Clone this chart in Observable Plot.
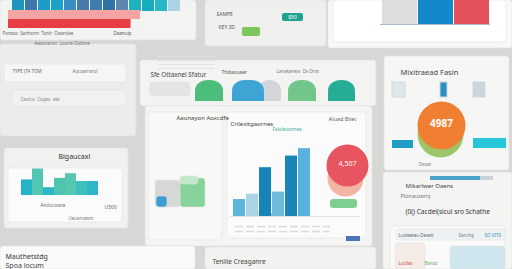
<!DOCTYPE html>
<html><head><meta charset="utf-8">
<script src="https://cdn.jsdelivr.net/npm/d3@7"></script>
<script src="https://cdn.jsdelivr.net/npm/@observablehq/plot@0.6"></script>
<style>
body{margin:0;background:#d7d8d6;}
#c{position:relative;width:512px;height:269px;overflow:hidden;font-family:"Noto Sans",sans-serif;background:#d7d8d6}
#c svg{position:absolute}
</style></head><body><div id="c"></div>
<script>
// ---- data ----
const mainCats = ["Jan","Feb","Mar","Apr","May","Jun"];
const mainVals = [16, 21, 46, 23, 57, 64];
const topCats = ["Total","Revenue","Costs"];
const topVals = [60, 62, 62];
const stripCats = ["c1","c2","c3","c4","c5","c6","c7","c8","c9","c10","c11","c12","c13"];
const bandCats = ["Target","Actual"];
const bandVals = [140, 130];
const sideCats = ["s1","s2","s3","s4","s5","s6","s7"];
const sideVals = [10, 17, 5, 11, 14, 9, 9];
const gaugeLabels = ["Sfe Ottaxnel Sfatur","Mixitraead Fasin","Bigaucaxl","Aaunayon Aoxcdfe"];
const kpiTexts = ["4987", "4,507", "$50"];

const C = document.getElementById("c");
function place(svg, left, top){ svg.style.left = left+"px"; svg.style.top = top+"px"; C.append(svg); }

// ---- layout (pixel frame) ----
const panels = [
  [0,0,196,40,"#f3f3f2"],
  [205,0,326,46,"#efefee"],
  [328,0,512,48,"#f8f8f7"],
  [333,0,506,42,"#ffffff"],
  [0,44,136,136,"#ececeb"],
  [4,64,126,82,"#f6f6f5"],
  [12,90,126,106,"#f1f1f0"],
  [140,60,376,106,"#f3f3f2"],
  [145,106,372,246,"#f4f4f3"],
  [148,112,222,240,"#f8f8f7"],
  [227,112,366,238,"#fbfbfb"],
  [384,56,509,170,"#f6f6f5"],
  [383,172,512,269,"#f4f4f3"],
  [390,226,505,269,"#fafafa"],
  [4,148,128,228,"#f1f1f0"],
  [8,168,122,222,"#fbfbfb"],
  [0,246,195,269,"#fafafa"],
  [205,247,376,269,"#f2f2f1"],
  [150,82,190,96,"#e4e4e3"],
  [155,180,180,207,"#d6d7d7"],
  [180,178,205,207,"#86d49b"],
  [180,176,198,184,"#bfe9c9"],
  [156,196,167,207,"#3c9fd2"],
  [396,229,505,240,"#eef2f4"],
  [395,243,425,269,"#f6ece7"],
  [450,246,505,269,"#cfe6ee"]
].map(([x1,y1,x2,y2,f])=>({x1,y1,x2,y2,f}));

const domes = [
  [195,223,"#4dbd7c"],[258,281,"#d3d6d8"],[232,264,"#3ea4d4"],[288,316,"#72c68b"],[328,355,"#27ad96"]
].map(([x1,x2,c])=>({x1,x2,c}));

const texts = [
  [150,74,gaugeLabels[0],"#444",6.3],
  [221,72,"Thdaouaer","#555",5],
  [276,71,"Lanakarexs  Dx Drzs","#777",4.5],
  [400,72,gaugeLabels[1],"#444",7.5],
  [58,156,gaugeLabels[2],"#333",7],
  [176,118,gaugeLabels[3],"#444",6],
  [230,124,"Crilexitgaornes","#444",6],
  [272,129,"Fsloleoomes","#4a9",5],
  [328,119,"Aluad Bliec","#666",5.5],
  [405,186,"Mikarlwer Oaens","#444",6],
  [400,196,"Plonautarry","#777",5.5],
  [405,211,"(0() Cacdei(sicul sro Schathe","#333",6.5],
  [5,256,"Mauthetstdg","#333",7],
  [5,265,"Spoa locum","#444",7],
  [212,261,"Tenilie Creaganre","#444",6.5],
  [2,33,"Pontoo  Sanhonn  Tonlr  Oaarvlae","#666",4.5],
  [113,33,"Daanulp","#555",4.5],
  [12,71,"TYPE (TA TOM","#666",4.5],
  [72,71,"Aocoarrarol","#777",4.5],
  [34,43,"Aesonaron  Loone Oobme","#777",4.5],
  [20,99,"Caolco  Cogeo  ete","#888",4.5],
  [216,14,"SAMPE","#555",5],
  [218,27,"KEY 3D","#555",5],
  [418,164,"Osoar","#777",4.5],
  [256,214,"Fisprcles","#777",4.5],
  [40,205,"Anclucoone","#666",4.5],
  [68,218,"Ueuaruesm","#777",4.5],
  [104,207,"U500","#666",5],
  [398,235,"Lusieeteu Deseti","#666",4.5],
  [458,235,"Saruhg","#777",4.5],
  [484,235,"SO VITS","#3a8fc4",4.5],
  [398,263,"Lucilss","#c44",4.5],
  [424,263,"Bsnsd","#6a6",4.5]
].map(([x,y,t,fill,s])=>({x,y,t,fill,s}));

const R = (data, opts) => Plot.rect(data, {x1:"x1",x2:"x2",y1:"y1",y2:"y2",...opts});
const base = Plot.plot({
  width:512, height:269, margin:0,
  x:{domain:[0,512], range:[0,512], axis:null}, y:{domain:[0,269], range:[0,269], axis:null},
  style:{background:"transparent"},
  marks:[
    R(panels,{fill:d=>d.f,stroke:"#e3e3e1",strokeWidth:0.6,rx:3}),
    // gauge domes in status panel
    R(domes,{y1:()=>80,y2:()=>101,fill:d=>d.c,rx:13}),
    R(domes,{y1:()=>92,y2:()=>101,fill:d=>d.c}),
    // red pie in main panel
    Plot.dot([{x:345,y:178}],{x:"x",y:"y",r:18,fill:"#f3b4a4"}),
    Plot.dot([{x:347,y:165}],{x:"x",y:"y",r:21,fill:"#e8545f"}),
    R([{x1:330,x2:357,y1:199,y2:208}],{fill:"#7ccf8f",rx:3}),
    R([{x1:346,x2:360,y1:236,y2:241}],{fill:"#4d74b8"}),
    // orange blob
    Plot.dot([{x:440,y:134}],{x:"x",y:"y",r:23,fill:"#9dc66c"}),
    Plot.dot([{x:441,y:125}],{x:"x",y:"y",r:24,fill:"#f17f31"}),
    R([{x1:473,x2:506,y1:138,y2:148},{x1:392,x2:413,y1:140,y2:148}],{fill:(d,i)=>i?"#1f9dc9":"#27c6d9"}),
    R([{x1:392,x2:405,y1:82,y2:97},{x1:440,x2:447,y1:82,y2:97},{x1:473,x2:485,y1:82,y2:97}],{fill:(d,i)=>["#dfe6ea","#2a8fc6","#c9d6de"][i],stroke:"#cfd8dc"}),
    R([{x1:430,x2:480,y1:176,y2:180}],{fill:"#4aa2c9"}),
    R([{x1:480,x2:493,y1:176,y2:180}],{fill:"#c9d3d8"}),
    // buttons top middle
    R([{x1:282,x2:303,y1:13,y2:21},{x1:242,x2:260,y1:27,y2:36}],{fill:(d,i)=>i?"#7dc65a":"#1fa38c",rx:2}),
    Plot.text([{x:292,y:17,t:kpiTexts[2]}],{x:"x",y:"y",text:"t",fill:"white",fontSize:5}),
    Plot.text([{x:441,y:123,t:kpiTexts[0]}],{x:"x",y:"y",text:"t",fill:"white",fontSize:10,fontWeight:"bold"}),
    Plot.text([{x:347,y:163,t:kpiTexts[1]}],{x:"x",y:"y",text:"t",fill:"white",fontSize:7}),
    Plot.text(texts,{x:"x",y:"y",text:"t",fill:d=>d.fill,fontSize:d=>d.s,textAnchor:"start"}),
    Plot.ruleY([216],{x1:230,x2:360,stroke:"#cfd6da",strokeWidth:0.6}),
    Plot.ruleY([226,231],{x1:235,x2:330,stroke:"#d8dcdf",strokeWidth:1.5,strokeDasharray:"8,3"}),
    Plot.ruleY([56,60,64,68],{x1:158,x2:215,stroke:"#e2e2e1",strokeWidth:1})
  ]
});
C.append(base); base.style.left="0px"; base.style.top="0px";

// ---- top-left strip of cells and red band ----
const stripColors = ["#1e96c0","#3b78ae","#1e9cc8","#1aa2c8","#3a8ec4","#4a78a8","#3e7db0","#2f74a6","#5f86ae","#1db3be","#17acbd","#26b7c8","#abd3e4"];
place(Plot.plot({
  width:172, height:11, margin:0, x:{axis:null, domain:stripCats, padding:0.04}, y:{axis:null},
  style:{background:"transparent"},
  marks:[Plot.cell(stripCats,{x:d=>d, fill:(d,i)=>stripColors[i]})]
}), 10, 0);
place(Plot.plot({
  width:132, height:18, margin:0, x:{axis:null, domain:[0,140]}, y:{axis:null, domain:bandCats, padding:0},
  style:{background:"transparent"},
  marks:[Plot.barX(bandCats,{y:d=>d, x:(d,i)=>bandVals[i], fill:(d,i)=>i?"#e63d47":"#f5a3a3"})]
}), 8, 10);

// ---- top-right bars ----
place(Plot.plot({
  width:110, height:28, margin:0, marginBottom:2, x:{axis:null, domain:topCats, padding:0.04}, y:{axis:null, domain:[0,45]},
  style:{background:"transparent"},
  marks:[
    Plot.barY(topCats,{x:d=>d, y:(d,i)=>topVals[i], fill:(d,i)=>["#dcdedd","#1389cc","#e4525d"][i]}),
    Plot.ruleY([0],{stroke:"#aab8c8"})
  ]
}), 380, -2);

// ---- main bar chart ----
const mainColors = ["#5db5dc","#a9d3e6","#1683ba","#6cbbdb","#1a86b7","#5ab2dc"];
place(Plot.plot({
  width:84, height:70, margin:0, x:{axis:null, domain:mainCats, padding:0.04}, y:{axis:null, domain:[0,66]},
  style:{background:"transparent"},
  marks:[Plot.barY(mainCats,{x:d=>d, y:(d,i)=>mainVals[i], fill:(d,i)=>mainColors[i]})]
}), 230, 146);

// ---- left side chart ----
const sideColors = ["#24b4c6","#52c6b1","#2cb7c4","#4fc4b0","#56c8b2","#3dbfbd","#2eb6c4"];
place(Plot.plot({
  width:82, height:28, margin:0, x:{axis:null, domain:sideCats, padding:0.02}, y:{axis:null, domain:[0,18]},
  style:{background:"transparent"},
  marks:[Plot.barY(sideCats,{x:d=>d, y:(d,i)=>sideVals[i], fill:(d,i)=>sideColors[i]})]
}), 18, 167);
</script></body></html>
